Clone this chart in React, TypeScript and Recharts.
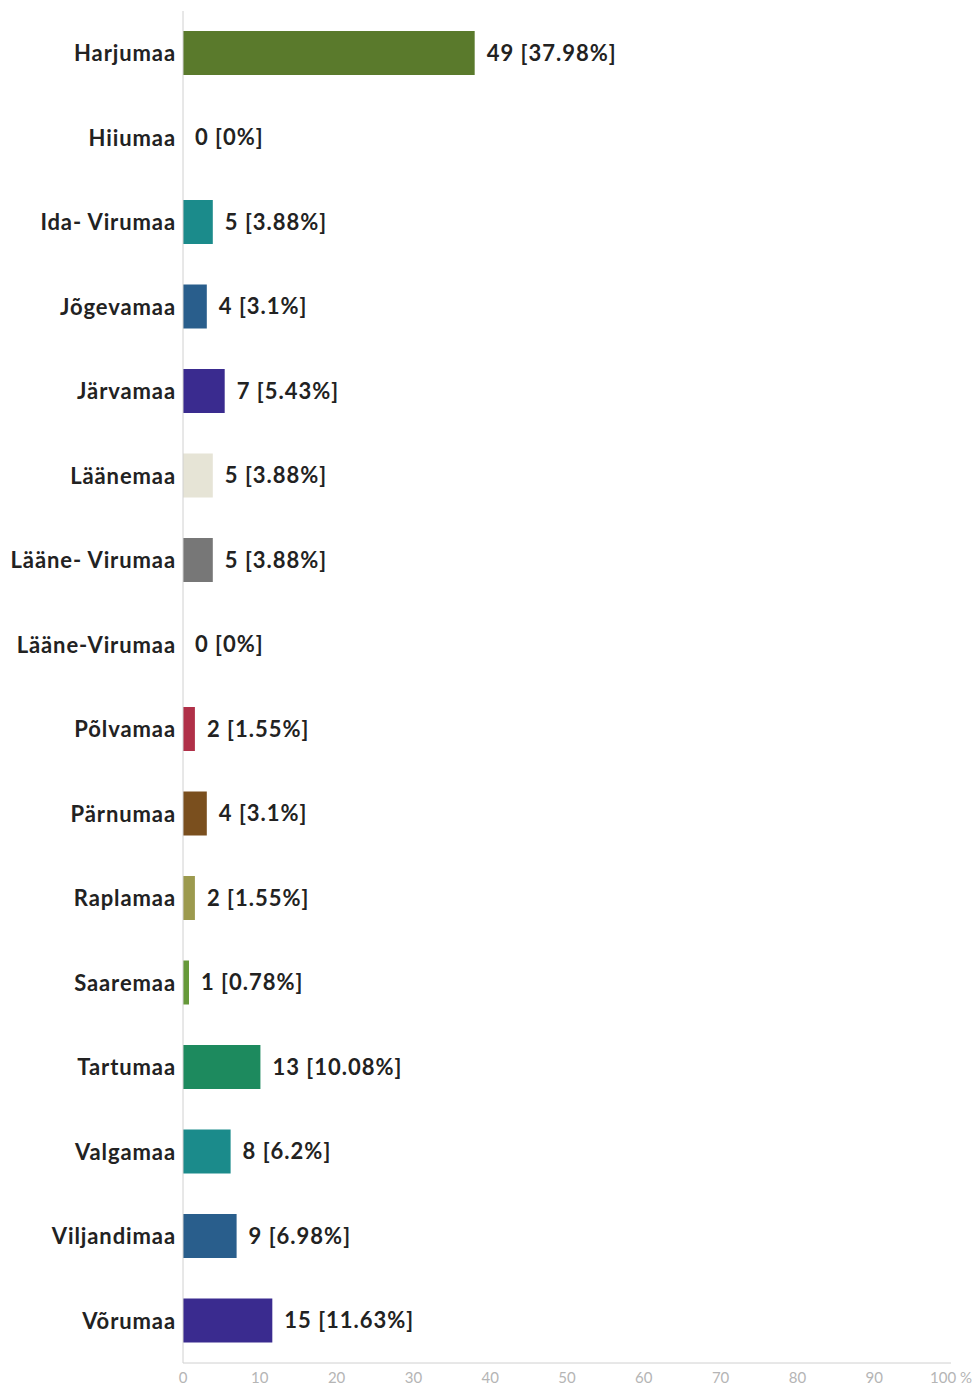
import { BarChart, Bar, XAxis, YAxis, Cell, LabelList } from "recharts"

// Maakond responses, count and share of total
const counties = [
  "Harjumaa",
  "Hiiumaa",
  "Ida- Virumaa",
  "Jõgevamaa",
  "Järvamaa",
  "Läänemaa",
  "Lääne- Virumaa",
  "Lääne-Virumaa",
  "Põlvamaa",
  "Pärnumaa",
  "Raplamaa",
  "Saaremaa",
  "Tartumaa",
  "Valgamaa",
  "Viljandimaa",
  "Võrumaa",
]
const counts = [49, 0, 5, 4, 7, 5, 5, 0, 2, 4, 2, 1, 13, 8, 9, 15]
const percents = [37.98, 0, 3.88, 3.1, 5.43, 3.88, 3.88, 0, 1.55, 3.1, 1.55, 0.78, 10.08, 6.2, 6.98, 11.63]
const colors = [
  "#5a7a2c",
  "#5a7a2c",
  "#1b8b8b",
  "#295e8c",
  "#3a2b8f",
  "#e6e4d6",
  "#777777",
  "#777777",
  "#b03048",
  "#7a4f1e",
  "#9c9a4e",
  "#66993a",
  "#1d8a5e",
  "#1b8b8b",
  "#295e8c",
  "#3a2b8f",
]
const xTicks = [0, 10, 20, 30, 40, 50, 60, 70, 80, 90, 100]

const data = counties.map((name, i) => ({
  name,
  pct: percents[i],
  label: `${counts[i]} [${percents[i]}%]`,
}))

const font = "Lato, 'Open Sans', sans-serif"

export default function App() {
  return (
    <div style={{ position: "absolute", left: 0, top: 0, background: "#fff" }}>
      <BarChart
        width={973}
        height={1387}
        data={data}
        layout="vertical"
        margin={{ top: 11, right: 22, left: 0, bottom: 0 }}
        barCategoryGap={20}
      >
        <XAxis
          type="number"
          domain={[0, 100]}
          ticks={xTicks}
          height={24}
          tickLine={false}
          tickSize={0}
          tickMargin={9}
          stroke="#d0d0d0"
          tick={{ fill: "#b5b5b5", fontSize: 15, fontFamily: font }}
          tickFormatter={(v) => (v === 100 ? "100 %" : `${v}`)}
        />
        <YAxis
          type="category"
          dataKey="name"
          width={183}
          tickLine={false}
          tickSize={0}
          tickMargin={7}
          stroke="#d0d0d0"
          tick={{ fill: "#222", fontSize: 22, fontWeight: "bold", fontFamily: font, letterSpacing: 0.9 }}
        />
        <Bar
          dataKey="pct"
          barSize={44}
          minPointSize={(v: number) => (v === 0 ? 0.01 : 0)}
          isAnimationActive={false}
        >
          {data.map((d, i) => (
            <Cell key={d.name} fill={colors[i]} />
          ))}
          <LabelList
            dataKey="label"
            position="right"
            offset={12}
            fill="#222"
            fontSize={22}
            fontWeight="bold"
            fontFamily={font}
            letterSpacing={1}
          />
        </Bar>
      </BarChart>
    </div>
  )
}
